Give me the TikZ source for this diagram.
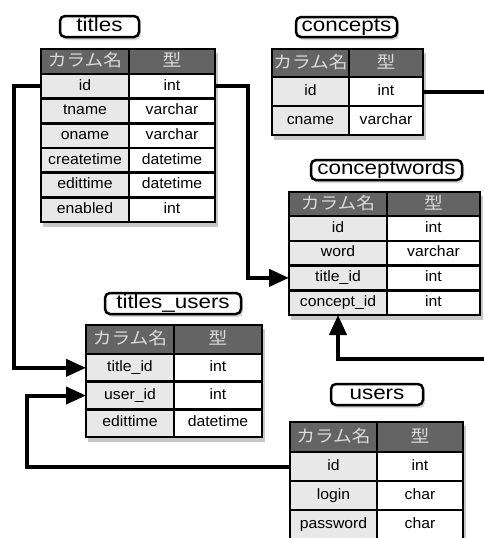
\documentclass[tikz,border=0pt]{standalone}
\usepackage{fontspec}
\setmainfont{Liberation Sans}
\newfontfamily\cellfont[FakeStretch=1.05]{Liberation Sans}
\newfontfamily\labfont[FakeStretch=1.15]{Liberation Sans}
\newfontfamily\jpfont[FakeStretch=1.1]{Noto Sans CJK JP}
\usetikzlibrary{arrows.meta,shadows,calc}
\definecolor{hdrfill}{HTML}{646464}
\definecolor{hdrtext}{HTML}{DADADA}
\definecolor{keyfill}{HTML}{E8E8E8}
\tikzset{
  cell/.style={draw=black, line width=2.5pt, inner sep=0pt, outer sep=0pt, anchor=north west,
    font=\cellfont\fontsize{15}{17}\selectfont, text height=10.5pt, text depth=3pt},
  keycell/.style={cell, fill=keyfill},
  typecell/.style={cell, fill=white},
  hdrcell/.style={cell, fill=hdrfill, text=hdrtext, font=\jpfont\fontsize{17}{18}\selectfont,
    text height=12pt, text depth=2pt},
  tablabel/.style={draw=black, line width=2.5pt, rounded corners=5pt, fill=white, inner sep=0pt,
    font=\labfont\fontsize{19.5}{21}\selectfont, text height=13.5pt, text depth=4pt,
    drop shadow={shadow xshift=2pt, shadow yshift=-3pt, opacity=0.3}},
  tabshadow/.style={fill=black, opacity=0.22},
  conn/.style={line width=4pt},
  arr/.style={conn, -{Triangle[length=20pt,width=17pt]}},
}
\newcommand\dbtab[9]{%
  \pgfmathsetmacro\kw{#3-#2}%
  \pgfmathsetmacro\tw{#4-#3}%
  \pgfmathsetmacro\hh{#6-#5}%
  \pgfmathsetmacro\ybot{#6+#8*#7}%
  \fill[tabshadow] ({#2+2},{#5+4}) rectangle ({#4+3},{\ybot+5});
  \node[hdrcell, minimum width=\kw pt, minimum height=\hh pt] (#1-h1) at (#2,#5) {カラム名};
  \node[hdrcell, minimum width=\tw pt, minimum height=\hh pt] (#1-h2) at (#3,#5) {型};
  \foreach \colk/\colt [count=\ri] in {#9} {
    \node[keycell, minimum width=\kw pt, minimum height=#7pt] (#1-k\ri) at (#2,{#6+(\ri-1)*#7}) {\colk};
    \node[typecell, minimum width=\tw pt, minimum height=#7pt] (#1-t\ri) at (#3,{#6+(\ri-1)*#7}) {\colt};
  }%
}
\begin{document}
\begin{tikzpicture}[x=1pt,y=-1pt]
  \clip (0,0) rectangle (484,538);
  \fill[white] (0,0) rectangle (484,538);

  \dbtab{titles}{41}{129}{215}{49}{74}{24.67}{6}{id/int, tname/varchar, oname/varchar, createtime/datetime, edittime/datetime, enabled/int}
  \dbtab{concepts}{272}{349}{423}{49}{77}{29}{2}{id/int, cname/varchar}
  \dbtab{cw}{289}{387}{480}{192}{216}{24.75}{4}{id/int, word/varchar, title\_id/int, concept\_id/int}
  \dbtab{tu}{86}{174}{262}{325}{354}{27.67}{3}{title\_id/int, user\_id/int, edittime/datetime}
  \dbtab{users}{290}{377}{463}{422}{452}{29}{3}{id/int, login/char, password/char}

  \node[tablabel, minimum width=79pt, minimum height=21pt] (titles-lab) at (99.5,26.5) {titles};
  \node[tablabel, minimum width=101pt, minimum height=20pt] (concepts-lab) at (346.5,27) {concepts};
  \node[tablabel, minimum width=151pt, minimum height=20pt] (cw-lab) at (386.5,170) {conceptwords};
  \node[tablabel, minimum width=136pt, minimum height=21pt] (tu-lab) at (173,303.5) {titles\_users};
  \node[tablabel, minimum width=92pt, minimum height=21pt] (users-lab) at (377,394.5) {users};

  \draw[arr] (titles-k1.west) -- ++(-27,0) |- (tu-k1.west);
  \draw[arr] (titles-t1.east) -- ++(33,0) |- (cw-k3.west);
  \draw[arr] (concepts-t1.east) -- ++(80,0) |- ($(cw-k4.south)+(0,44)$) -- (cw-k4.south);
  \draw[arr] (users-k1.west) -- ++(-263,0) |- (tu-k2.west);
\end{tikzpicture}
\end{document}
